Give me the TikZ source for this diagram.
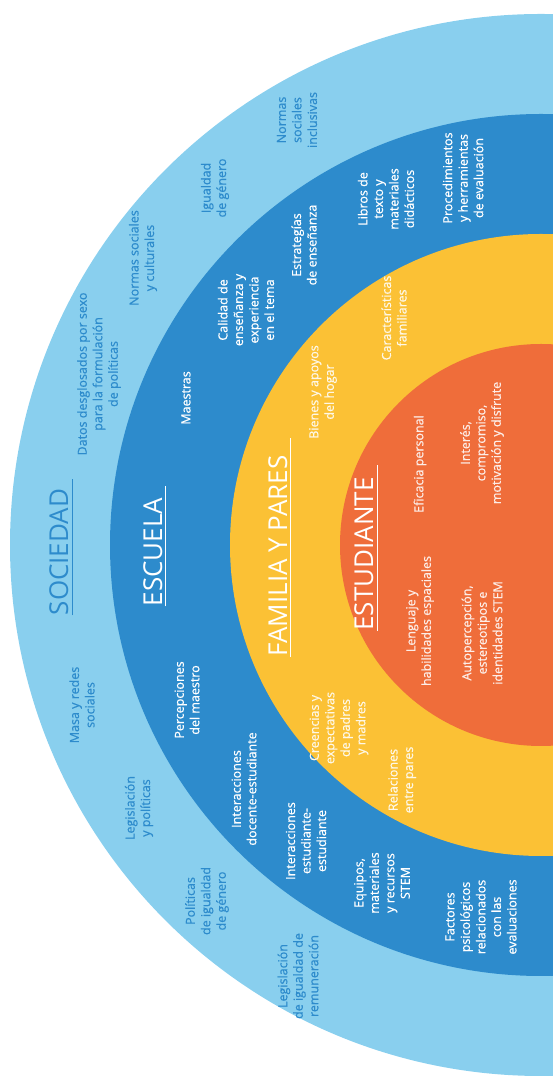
\documentclass[tikz,border=0pt]{standalone}
\usepackage{fontspec}
\setsansfont{Open Sans}
\newfontfamily\itemfont{Open Sans}[FakeBold=0.6]
\usetikzlibrary{positioning}
\definecolor{sociedadblue}{RGB}{137,207,238}
\definecolor{escuelablue}{RGB}{45,139,204}
\definecolor{familiayellow}{RGB}{251,193,53}
\definecolor{estudianteorange}{RGB}{239,109,58}
\tikzset{%
  % Specifications for style of rings:
   ring/.style = {draw=none},
  % Specifications for style of nodes:
   item/.style = {rotate=90, align=center, inner sep=0pt,
                  font=\itemfont\fontsize{12.5}{15.5}\selectfont},
   sociedaditem/.style = {item, text=escuelablue},
   escuelaitem/.style = {item, text=white},
   familiaitem/.style = {item, text=white!88!familiayellow},
   estudianteitem/.style = {item, text=white!88!estudianteorange},
   title/.style = {rotate=90, anchor=base, inner sep=0pt,
                  font=\sffamily\fontsize{26}{30}\selectfont},
   underline/.style = {line width=1pt},
}

\begin{document}
\begin{tikzpicture}[x=1pt, y=1pt]
  \useasboundingbox (0,0) rectangle (553,1076);
  \clip (0,0) rectangle (553,1076);

  % Rings
  \fill[ring, sociedadblue]     (541,531) circle [radius=531pt];
  \fill[ring, escuelablue]      (541,531) circle [radius=431pt];
  \fill[ring, familiayellow]    (541,531) circle [radius=311pt];
  \fill[ring, estudianteorange] (541,531) circle [radius=201pt];

  % Titles
  \node (Sociedad_title)   [title, text=escuelablue] at (68,524)   {SOCIEDAD};
  \node (Escuela_title)    [title, text=white]       at (162,524)  {ESCUELA};
  \node (Familia_title)    [title, text=white]       at (287,520)  {FAMILIA Y PARES};
  \node (Estudiante_title) [title, text=white]       at (373,522)  {ESTUDIANTE};

  \draw[underline, escuelablue] ([xshift=4pt]Sociedad_title.base west) -- ([xshift=4pt, yshift=10pt]Sociedad_title.base east);
  \draw[underline, white] ([xshift=3pt]Escuela_title.base west) -- ([xshift=3pt, yshift=12pt]Escuela_title.base east);
  \draw[underline, white] ([xshift=3pt]Familia_title.base west) -- ([xshift=3pt, yshift=17pt]Familia_title.base east);
  \draw[underline, white] ([xshift=4pt]Estudiante_title.base west) -- ([xshift=4pt, yshift=12pt]Estudiante_title.base east);

  % Sociedad
  \node (inclusivas_label)   [sociedaditem] at (297,956) {Normas\\sociales\\inclusivas};
  \node (igualdad_label)     [sociedaditem] at (215,888) {Igualdad\\de género};
  \node (culturales_label)   [sociedaditem] at (143,818) {Normas sociales\\y culturales};
  \node (datos_label)        [sociedaditem] at (99,702)  {Datos desglosados por sexo\\para la formulación\\de políticas};
  \node (masa_label)         [sociedaditem] at (82,371)  {Masa y redes\\sociales};
  \node (legislacion_label)  [sociedaditem] at (139,268) {Legislación\\y políticas};
  \node (politicas_label)    [sociedaditem] at (207,175) {Políticas\\de igualdad\\de género};
  \node (remuneracion_label) [sociedaditem] at (298,100) {Legislación\\de igualdad de\\remuneración};

  % Escuela
  \node (evaluacion_label)   [escuelaitem] at (463,898) {Procedimientos\\y herramientas\\de evaluación};
  \node (libros_label)       [escuelaitem] at (386,877) {Libros de\\texto y\\materiales\\didácticos};
  \node (estrategias_label)  [escuelaitem] at (304,831) {Estrategías\\de enseñanza};
  \node (calidad_label)      [escuelaitem] at (246,766) {Calidad de\\enseñanza y\\experiencia\\en el tema};
  \node (maestras_label)     [escuelaitem] at (186,678) {Maestras};
  \node (percepciones_label) [escuelaitem] at (187,376) {Percepciones\\del maestro};
  \node (docente_label)      [escuelaitem] at (244,287) {Interacciones\\docente-estudiante};
  \node (estudiante_label)   [escuelaitem] at (306,235) {Interacciones\\estudiante-\\estudiante};
  \node (equipos_label)      [escuelaitem] at (382,193) {Equipos,\\materiales\\y recursos\\STEM};
  \node (factores_label)     [escuelaitem] at (481,159) {Factores\\psicológicos\\relacionados\\con las\\evaluaciones};

  % Familia y pares
  \node (caracteristicas_label) [familiaitem] at (394,758) {Características\\familiares};
  \node (bienes_label)          [familiaitem] at (323,684) {Bienes y apoyos\\del hogar};
  \node (creencias_label)       [familiaitem] at (339,348) {Creencias y\\expectativas\\de padres\\y madres};
  \node (relaciones_label)      [familiaitem] at (402,296) {Relaciones\\entre pares};

  % Estudiante
  \node (eficacia_label)       [estudianteitem] at (420,612) {Eficacia personal};
  \node (interes_label)        [estudianteitem] at (482,633) {Interés,\\compromiso,\\motivación y disfrute};
  \node (lenguaje_label)       [estudianteitem] at (420,455) {Lenguaje y\\habilidades espaciales};
  \node (autopercepcion_label) [estudianteitem] at (482,443) {Autopercepción,\\estereotipos e\\identidades STEM};

\end{tikzpicture}
\end{document}
